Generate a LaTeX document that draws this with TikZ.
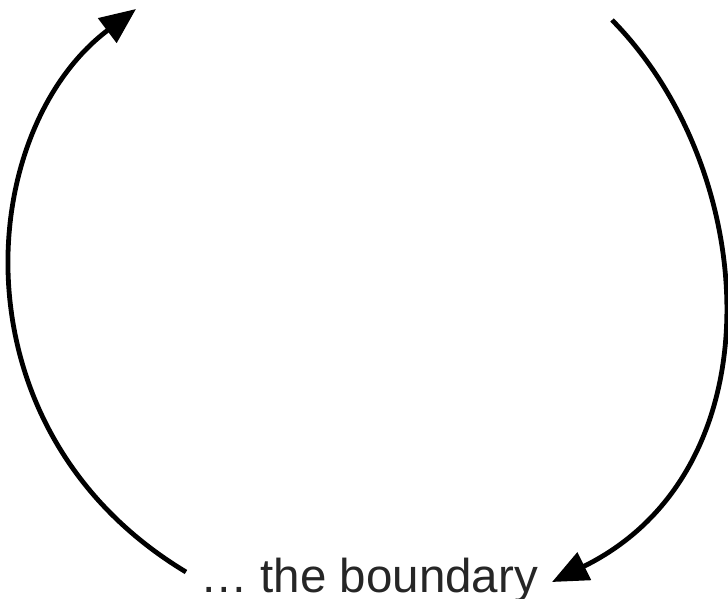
\documentclass[tikz,border=0pt]{standalone}
\usepackage{fontspec}
\setmainfont{Liberation Sans}
\usetikzlibrary{arrows.meta}
\begin{document}
\begin{tikzpicture}[x=1pt,y=-1pt,
  arc/.style={line width=4.8pt,-{Triangle[length=36pt,width=30pt]}},
  lbl/.style={inner sep=0pt,anchor=base,font=\fontsize{47.5}{52}\selectfont,text=black!85}]
\useasboundingbox (0,0) rectangle (728,599);
\clip (0,0) rectangle (728,599);
\node[lbl] (bnd) at (369,592) {… the boundary};
\coordinate (ls) at (186,572);
\coordinate (le) at (136,9);
\coordinate (rs) at (612,20);
\coordinate (re) at (552,582);
\draw[arc] (ls) .. controls (-50,430) and (-25,130) .. (le);
\draw[arc] (rs) .. controls (760,170) and (780,470) .. (re);
\end{tikzpicture}
\end{document}
